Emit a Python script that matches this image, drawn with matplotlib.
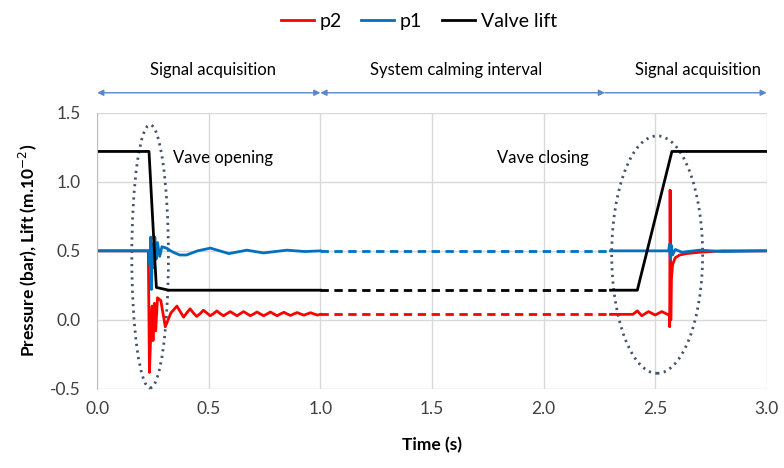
import matplotlib.pyplot as plt
from matplotlib.patches import Ellipse

plt.rcParams['font.family'] = ['Lato', 'DejaVu Sans']

# p2 (downstream pressure), opening part, solid
p2_open_t = [0.0, 0.229, 0.234, 0.240, 0.246, 0.250, 0.256, 0.262, 0.270, 0.285, 0.305,
             0.330, 0.357, 0.372, 0.387, 0.401, 0.416, 0.431, 0.446, 0.461, 0.476,
             0.491, 0.506, 0.521, 0.536, 0.551, 0.566, 0.581, 0.596, 0.611, 0.626,
             0.641, 0.656, 0.671, 0.686, 0.701, 0.716, 0.731, 0.746, 0.761, 0.776,
             0.791, 0.806, 0.821, 0.836, 0.851, 0.866, 0.881, 0.896, 0.911, 0.926,
             0.941, 0.956, 0.971, 0.986, 1.0]
p2_open_v = [0.5, 0.5, -0.38, -0.10, 0.10, -0.15, 0.12, -0.08, 0.16, 0.14, -0.05,
             0.05, 0.10, 0.06, 0.02, 0.05, 0.08, 0.05, 0.025, 0.045, 0.07,
             0.05, 0.03, 0.045, 0.065, 0.045, 0.03, 0.045, 0.06, 0.045, 0.03,
             0.045, 0.06, 0.045, 0.03, 0.043, 0.057, 0.043, 0.03, 0.043, 0.057,
             0.043, 0.03, 0.043, 0.055, 0.043, 0.032, 0.043, 0.053, 0.043, 0.034,
             0.043, 0.052, 0.043, 0.035, 0.04]
p2_close_t = [2.30, 2.40, 2.42, 2.44, 2.47, 2.50, 2.53, 2.555, 2.563, 2.565, 2.567,
              2.570, 2.573, 2.578, 2.59, 2.61, 2.64, 2.70, 2.80, 3.0]
p2_close_v = [0.04, 0.04, 0.065, 0.03, 0.06, 0.035, 0.06, 0.04, 0.04, -0.05, 0.94,
              0.0, 0.30, 0.40, 0.45, 0.47, 0.48, 0.49, 0.50, 0.50]

# p1 (upstream pressure)
p1_open_t = [0.0, 0.232, 0.236, 0.240, 0.243, 0.248, 0.252, 0.258, 0.264, 0.270, 0.280,
             0.290, 0.310, 0.340, 0.370, 0.400, 0.450, 0.507, 0.590, 0.670, 0.745,
             0.850, 0.930, 1.0]
p1_open_v = [0.5, 0.5, 0.40, 0.60, 0.22, 0.55, 0.38, 0.60, 0.44, 0.56, 0.46,
             0.53, 0.52, 0.49, 0.47, 0.47, 0.50, 0.52, 0.48, 0.505, 0.485,
             0.505, 0.495, 0.5]
p1_close_t = [2.30, 2.56, 2.565, 2.568, 2.572, 2.578, 2.59, 2.62, 2.70, 2.80, 3.0]
p1_close_v = [0.5, 0.5, 0.55, 0.44, 0.54, 0.47, 0.51, 0.49, 0.505, 0.495, 0.5]

# valve lift
lift_open_t = [0.0, 0.232, 0.265, 0.32, 1.0]
lift_open_v = [1.22, 1.22, 0.235, 0.215, 0.215]
lift_close_t = [2.30, 2.42, 2.575, 3.0]
lift_close_v = [0.215, 0.215, 1.22, 1.22]

# calming interval (dashed)
calm_t = [1.0, 2.30]
p2_calm = [0.04, 0.04]
p1_calm = [0.5, 0.5]
lift_calm = [0.215, 0.215]

RED = '#ff0000'
BLUE = '#0070c0'
BLACK = '#000000'
lw = 2.0

fig = plt.figure(figsize=(7.84, 4.68), dpi=100)
ax = fig.add_axes([0.124, 0.169, 0.854, 0.590])

ax.plot(p2_open_t, p2_open_v, color=RED, lw=lw, label='p2')
ax.plot(p2_close_t, p2_close_v, color=RED, lw=lw)
ax.plot(calm_t, p2_calm, color=RED, lw=lw, ls=(0, (3, 2)))
ax.plot(p1_open_t, p1_open_v, color=BLUE, lw=lw, label='p1')
ax.plot(p1_close_t, p1_close_v, color=BLUE, lw=lw)
ax.plot(calm_t, p1_calm, color=BLUE, lw=lw, ls=(0, (3, 2)))
ax.plot(lift_open_t, lift_open_v, color=BLACK, lw=lw, label='Valve lift')
ax.plot(lift_close_t, lift_close_v, color=BLACK, lw=lw)
ax.plot(calm_t, lift_calm, color=BLACK, lw=lw, ls=(0, (3, 2)))

# ellipses around the transients
for cx, cy, w, h in [(0.237, 0.46, 0.164, 1.906), (2.509, 0.473, 0.4075, 1.72)]:
    ax.add_patch(Ellipse((cx, cy), w, h, fill=False, ec='#44546a', lw=2.0,
                         ls=(0, (0.8, 1.6)), clip_on=False))

ax.text(0.34, 1.17, 'Vave opening', fontsize=12, va='center', ha='left')
ax.text(1.79, 1.17, 'Vave closing', fontsize=12, va='center', ha='left')

# phase arrows above the plot
acol = '#5b86c9'
ax.annotate('', xy=(0.0, 1.645), xytext=(1.0, 1.645), annotation_clip=False,
            arrowprops=dict(arrowstyle='<|-|>', color=acol, lw=1.0, mutation_scale=9,
                            shrinkA=0, shrinkB=0))
ax.annotate('', xy=(1.0, 1.645), xytext=(2.275, 1.645), annotation_clip=False,
            arrowprops=dict(arrowstyle='<|-|>', color=acol, lw=1.0, mutation_scale=9,
                            shrinkA=0, shrinkB=0))
ax.annotate('', xy=(2.275, 1.645), xytext=(3.0, 1.645), annotation_clip=False,
            arrowprops=dict(arrowstyle='<|-', color=acol, lw=1.0, mutation_scale=9,
                            shrinkA=0, shrinkB=0))
ax.text(0.52, 1.81, 'Signal acquisition', fontsize=12, ha='center', va='center')
ax.text(1.61, 1.81, 'System calming interval', fontsize=12, ha='center', va='center')
ax.text(2.69, 1.81, 'Signal acquisition', fontsize=12, ha='center', va='center')

ax.set_xlim(0, 3.0)
ax.set_ylim(-0.5, 1.5)
ax.set_xticks([0.0, 0.5, 1.0, 1.5, 2.0, 2.5, 3.0])
ax.set_yticks([-0.5, 0.0, 0.5, 1.0, 1.5])
ax.xaxis.set_major_formatter(plt.FormatStrFormatter('%.1f'))
ax.yaxis.set_major_formatter(plt.FormatStrFormatter('%.1f'))
ax.tick_params(length=0, labelsize=12.5, colors='#404040')
ax.tick_params(axis='y', pad=12)
ax.tick_params(axis='x', pad=9)
ax.grid(True, color='#d9d9d9', lw=1.0)
ax.set_axisbelow(True)
for s in ['top', 'right', 'bottom']:
    ax.spines[s].set_visible(False)
ax.spines['left'].set_color('#bfbfbf')

ax.set_xlabel('Time (s)', fontsize=12.5, fontweight='bold', labelpad=14)
ax.set_ylabel('Pressure (bar), Lift (m.10$^{-2}$)', fontsize=12.5, fontweight='bold', labelpad=8)

fig.legend(loc='upper center', bbox_to_anchor=(0.534, 1.01), ncol=3, frameon=False,
           fontsize=14, handlelength=1.7, columnspacing=1.0, handletextpad=0.3)

fig.savefig('out.png', dpi=100)
